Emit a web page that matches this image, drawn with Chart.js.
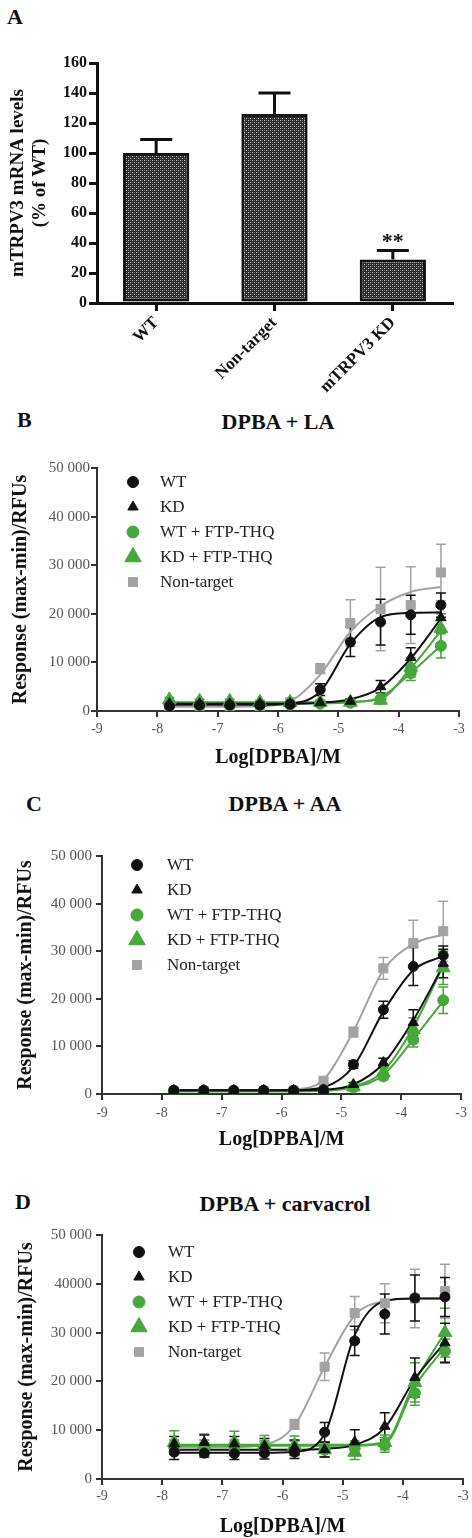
<!DOCTYPE html>
<html>
<head>
<meta charset="utf-8">
<script src="https://cdn.jsdelivr.net/npm/chart.js@4.4.1/dist/chart.umd.min.js"></script>
<style>
  body { margin: 0; background: #fff; width: 472px; height: 1538px; position: relative; overflow: hidden; font-family: "Liberation Serif", serif; }
  canvas { position: absolute; left: 0; }
  .lbl { position: absolute; font-weight: bold; color: #111; line-height: 1; white-space: nowrap; font-size: 22px; }
  .ttl { position: absolute; width: 300px; text-align: center; font-weight: bold; color: #111; line-height: 1; white-space: nowrap; font-size: 22px; }
</style>
</head>
<body>
<div class="lbl" style="left:7px;top:6px">A</div>
<div class="lbl" style="left:17px;top:409px">B</div>
<div class="ttl" style="left:128px;top:411px">DPBA + LA</div>
<div class="lbl" style="left:26px;top:793px">C</div>
<div class="ttl" style="left:135px;top:793px">DPBA + AA</div>
<div class="lbl" style="left:15px;top:1191px">D</div>
<div class="ttl" style="left:135px;top:1193px">DPBA + carvacrol</div>

<canvas id="chartA" width="472" height="400" style="top:0"></canvas>
<canvas id="chartB" width="472" height="390" style="top:390px"></canvas>
<canvas id="chartC" width="472" height="380" style="top:780px"></canvas>
<canvas id="chartD" width="472" height="378" style="top:1160px"></canvas>

<script>
// ---- data ----
const doseLog = [-7.8, -7.3, -6.8, -6.3, -5.8, -5.3, -4.8, -4.3, -3.8, -3.3];
const xTickLabels = ['-9', '-8', '-7', '-6', '-5', '-4', '-3'];

// A: mRNA levels
const aCategories = ['WT', 'Non-target', 'mTRPV3 KD'];
const aMeans = [100, 126, 29];
const aSem = [9, 14, 6];
const aMarks = ['', '', '**'];
const aYTickLabels = ['0', '20', '40', '60', '80', '100', '120', '140', '160'];

// B: DPBA + LA
const bYTickLabels = ['0', '10 000', '20 000', '30 000', '40 000', '50 000'];
const bWT = [1000, 1200, 1200, 1200, 1400, 4400, 14200, 18300, 19800, 21800];
const bWTErr = [300, 300, 300, 300, 300, 1200, 3000, 4700, 4000, 2500];
const bWTFit = [1300, 1300, 1300, 1300, 1500, 4000, 13800, 19300, 20200, 20300];
const bKD = [1500, 1500, 1500, 1500, 1500, 1700, 2000, 5000, 11000, 19200];
const bKDErr = [300, 300, 300, 300, 300, 300, 500, 1300, 2000, 3000];
const bKDFit = [1500, 1500, 1500, 1500, 1500, 1700, 2400, 4800, 10800, 19000];
const bWTF = [1300, 1300, 1300, 1300, 1300, 1500, 1700, 2500, 7800, 13400];
const bWTFErr = [300, 300, 300, 300, 300, 300, 400, 500, 1500, 2500];
const bWTFFit = [1600, 1600, 1600, 1600, 1600, 1600, 1800, 2800, 7800, 13500];
const bKDF = [2300, 2000, 2000, 1800, 1800, 1800, 1800, 2200, 9000, 17000];
const bKDFErr = [500, 400, 400, 400, 400, 400, 400, 500, 2000, 3000];
const bKDFFit = [1800, 1800, 1800, 1800, 1800, 1800, 1900, 2500, 8800, 16500];
const bNT = [800, 800, 800, 900, 1800, 8700, 18100, 21000, 21800, 28500];
const bNTErr = [200, 200, 200, 200, 500, 1000, 4800, 8600, 7900, 5800];
const bNTFit = [900, 900, 900, 1000, 2000, 7500, 16300, 21600, 24500, 25500];

// C: DPBA + AA
const cYTickLabels = ['0', '10 000', '20 000', '30 000', '40 000', '50 000'];
const cWT = [800, 800, 800, 800, 800, 900, 6200, 17700, 26800, 29100];
const cWTErr = [200, 200, 200, 200, 200, 300, 800, 1800, 4000, 2000];
const cWTFit = [800, 800, 800, 800, 800, 1400, 5800, 17300, 26000, 29000];
const cKD = [700, 700, 700, 700, 700, 800, 2000, 6600, 15000, 27400];
const cKDErr = [200, 200, 200, 200, 200, 200, 400, 900, 2700, 3000];
const cKDFit = [800, 800, 800, 800, 800, 900, 2000, 6400, 15500, 27000];
const cWTF = [500, 500, 500, 500, 500, 600, 1400, 3700, 11400, 19700];
const cWTFErr = [200, 200, 200, 200, 200, 200, 300, 700, 1500, 2800];
const cWTFFit = [600, 600, 600, 600, 600, 700, 1400, 4000, 11500, 19500];
const cKDF = [300, 300, 300, 300, 300, 500, 1500, 4500, 13500, 26500];
const cKDFErr = [200, 200, 200, 200, 200, 200, 400, 900, 2500, 3500];
const cKDFFit = [600, 600, 600, 600, 600, 700, 1600, 4800, 14000, 27000];
const cNT = [600, 600, 600, 600, 700, 2800, 13000, 26400, 31700, 34200];
const cNTErr = [200, 200, 200, 200, 200, 500, 1000, 2300, 4800, 6300];
const cNTFit = [800, 800, 800, 800, 1000, 3000, 13200, 26000, 31500, 33500];

// D: DPBA + carvacrol
const dYTickLabels = ['0', '10 000', '20 000', '30 000', '40000', '50 000'];
const dWT = [5500, 5300, 5200, 5300, 5500, 9600, 28300, 33800, 37100, 37300];
const dWTErr = [1500, 800, 1200, 1200, 1300, 2000, 3000, 4100, 4700, 4000];
const dWTFit = [5400, 5400, 5400, 5400, 5600, 9200, 29500, 36500, 37000, 37000];
const dKD = [7200, 7500, 7200, 6800, 6500, 6000, 7600, 10800, 20800, 27900];
const dKDErr = [1500, 1500, 1500, 1500, 1500, 1500, 2500, 2800, 4000, 4000];
const dKDFit = [6000, 6000, 6000, 6000, 6000, 6200, 7000, 10500, 20500, 28000];
const dWTF = [6500, 6500, 6500, 6300, 6300, 6000, 6300, 7000, 17600, 26200];
const dWTFErr = [1500, 1500, 1500, 1500, 1500, 1500, 1500, 1500, 2500, 2500];
const dWTFFit = [6800, 6800, 6800, 6800, 6800, 6800, 6800, 7300, 19000, 27000];
const dKDF = [7500, 7000, 7500, 7000, 6800, 6000, 5500, 7500, 19800, 30000];
const dKDFErr = [2400, 2200, 2300, 1900, 2000, 1500, 1500, 1500, 4000, 5000];
const dKDFFit = [7000, 7000, 7000, 7000, 7000, 7000, 7000, 7600, 20000, 30000];
const dNT = [6500, 6500, 6500, 6800, 11200, 23000, 34000, 36000, 37000, 38500];
const dNTErr = [1000, 1000, 1000, 1000, 1000, 2800, 3400, 4000, 6000, 5500];
const dNTFit = [6500, 6500, 6500, 7000, 11000, 23000, 33500, 36500, 37000, 37000];

// ---- styles ----
const SERIF = '"Liberation Serif", "Times New Roman", serif';
const INK = '#111';
const GREEN = '#46a83a';
const GREY = '#a3a3a3';
const seriesStyle = {
    WT: {label: 'WT', color: INK, pointStyle: 'circle', radius: 5, legendRadius: 5.5},
    KD: {label: 'KD', color: INK, pointStyle: 'triangle', radius: 6, legendRadius: 6},
    WTF: {label: 'WT + FTP-THQ', color: GREEN, pointStyle: 'circle', radius: 5.5, legendRadius: 6},
    KDF: {label: 'KD + FTP-THQ', color: GREEN, pointStyle: 'triangle', radius: 8, legendRadius: 9.5},
    NT: {label: 'Non-target', color: GREY, pointStyle: 'rect', radius: 6.4, legendRadius: 6.4}
};

// dotted fill used by the bars in panel A
function dotPattern() {
    const c = document.createElement('canvas');
    c.width = 4; c.height = 4;
    const g = c.getContext('2d');
    g.fillStyle = '#2a2a2a'; g.fillRect(0, 0, 4, 4);
    g.fillStyle = '#d0d0d0'; g.fillRect(0, 0, 1, 1); g.fillRect(2, 2, 1, 1);
    g.fillStyle = '#666'; g.fillRect(2, 0, 1, 1); g.fillRect(0, 2, 1, 1);
    return g.createPattern(c, 'repeat');
}

function drawErrors(chart, o) {
    const {ctx} = chart;
    const yScale = chart.scales.y;
    for (let i = chart.data.datasets.length - 1; i >= 0; i--) {
        const ds = chart.data.datasets[i];
        if (!ds.errors) continue;
        const meta = chart.getDatasetMeta(i);
        ctx.save();
        ctx.strokeStyle = ds.borderColor;
        ctx.lineWidth = o.width;
        meta.data.forEach((el, j) => {
            const v = meta.controller.getParsed(j).y;
            const e = ds.errors[j];
            const top = yScale.getPixelForValue(v + e);
            const bot = yScale.getPixelForValue(o.upOnly ? v : v - e);
            ctx.beginPath();
            ctx.moveTo(el.x, bot); ctx.lineTo(el.x, top);
            ctx.moveTo(el.x - o.cap / 2, top); ctx.lineTo(el.x + o.cap / 2, top);
            if (!o.upOnly) { ctx.moveTo(el.x - o.cap / 2, bot); ctx.lineTo(el.x + o.cap / 2, bot); }
            ctx.stroke();
            if (ds.marks && ds.marks[j]) {
                ctx.fillStyle = INK;
                ctx.font = 'bold 22px ' + SERIF;
                ctx.textAlign = 'center';
                ctx.textBaseline = 'middle';
                ctx.fillText(ds.marks[j], el.x, top - 8);
            }
        });
        ctx.restore();
    }
}

const errorBars = {
    id: 'errorBars',
    beforeDatasetsDraw(chart, _a, o) { if (!o.upOnly) drawErrors(chart, o); },
    afterDatasetsDraw(chart, _a, o) { if (o.upOnly) drawErrors(chart, o); }
};

const insetLegend = {
    id: 'insetLegend',
    afterDraw(chart, _a, o) {
        const {ctx, chartArea} = chart;
        let i = 0;
        chart.data.datasets.forEach(ds => {
            if (!ds.inLegend) return;
            const y = chartArea.top + o.top + i * o.gap;
            ctx.save();
            ctx.fillStyle = ds.backgroundColor;
            ctx.strokeStyle = ds.borderColor;
            ctx.lineWidth = 1;
            Chart.helpers.drawPoint(ctx, {pointStyle: ds.pointStyle, radius: ds.legendRadius, rotation: 0, borderWidth: 1}, o.markerX, y);
            ctx.fillStyle = '#222';
            ctx.font = '17px ' + SERIF;
            ctx.textAlign = 'left';
            ctx.textBaseline = 'middle';
            ctx.fillText(ds.label, o.textX, y + 1);
            ctx.restore();
            i++;
        });
    }
};

// ---- panel A ----
new Chart(document.getElementById('chartA'), {
    type: 'bar',
    data: {
        labels: aCategories,
        datasets: [{
            data: aMeans,
            errors: aSem,
            marks: aMarks,
            backgroundColor: dotPattern(),
            borderColor: INK,
            borderWidth: 3,
            borderSkipped: false,
            categoryPercentage: 1,
            barPercentage: 0.56
        }]
    },
    options: {
        responsive: false,
        animation: false,
        layout: {padding: {top: 63, right: 20, left: 0, bottom: 0}},
        plugins: {
            legend: {display: false},
            tooltip: {enabled: false},
            errorBars: {cap: 32, width: 3, upOnly: true}
        },
        scales: {
            x: {
                grid: {offset: false, drawOnChartArea: false, tickLength: 8, lineWidth: 3, color: INK},
                border: {color: INK, width: 3},
                ticks: {minRotation: 45, maxRotation: 45, padding: 2, color: INK, font: {family: SERIF, size: 17, weight: 'bold'}},
                afterFit: s => { s.height = 97; }
            },
            y: {
                min: 0,
                max: 160,
                grid: {drawOnChartArea: false, tickLength: 8, lineWidth: 3, color: INK},
                border: {color: INK, width: 3},
                ticks: {stepSize: 20, padding: 2, color: INK, font: {family: SERIF, size: 16, weight: 'bold'}, callback: v => aYTickLabels[v / 20]},
                title: {display: true, text: ['mTRPV3 mRNA levels', '(% of WT)'], color: INK, font: {family: SERIF, size: 19, weight: 'bold', lineHeight: 1.16}, padding: {top: 7, bottom: 0}},
                afterFit: s => { s.width = 97; }
            }
        }
    },
    plugins: [errorBars]
});

// ---- panels B, C, D ----
function doseDatasets(series) {
    const sets = [];
    series.forEach((s, i) => {
        const st = seriesStyle[s.key];
        sets.push({
            label: st.label,
            data: doseLog.map((x, j) => ({x, y: s.values[j]})),
            errors: s.errors,
            inLegend: true,
            legendRadius: st.legendRadius,
            showLine: false,
            pointStyle: st.pointStyle,
            pointRadius: st.radius,
            pointBorderWidth: 1,
            backgroundColor: st.color,
            borderColor: st.color,
            order: i + 1
        });
        sets.push({
            data: doseLog.map((x, j) => ({x, y: s.fit[j]})),
            showLine: true,
            pointRadius: 0,
            borderColor: st.color,
            borderWidth: 2,
            cubicInterpolationMode: 'monotone',
            order: 10 + i
        });
    });
    return sets;
}

function doseChart(id, series, yLabels, frame) {
    return new Chart(document.getElementById(id), {
        type: 'line',
        data: {datasets: doseDatasets(series)},
        options: {
            responsive: false,
            animation: false,
            layout: {padding: {top: frame.top, right: frame.right, left: 0, bottom: 0}},
            plugins: {
                legend: {display: false},
                tooltip: {enabled: false},
                errorBars: {cap: 10, width: 1.5, upOnly: false},
                insetLegend: frame.legend
            },
            scales: {
                x: {
                    type: 'linear',
                    min: -9,
                    max: -3,
                    grid: {drawOnChartArea: false, tickLength: 6, lineWidth: 2, color: '#333'},
                    border: {color: '#333', width: 2},
                    ticks: {stepSize: 1, autoSkip: false, padding: frame.xTickPad, color: '#555', font: {family: SERIF, size: 14}, callback: v => xTickLabels[Math.round(v) + 9]},
                    title: {display: true, text: 'Log[DPBA]/M', color: INK, font: {family: SERIF, size: 20, weight: 'bold', lineHeight: 1.1}, padding: {top: 0, bottom: frame.xTitlePad}},
                    afterFit: s => { s.height = frame.xHeight; }
                },
                y: {
                    min: 0,
                    max: 50000,
                    grid: {drawOnChartArea: false, tickLength: 6, lineWidth: 2, color: '#333'},
                    border: {color: '#333', width: 2},
                    ticks: {stepSize: 10000, padding: frame.yTickPad, color: '#555', font: {family: SERIF, size: 15}, callback: v => yLabels[Math.round(v / 10000)]},
                    title: {display: true, text: 'Response (max-min)/RFUs', color: INK, font: {family: SERIF, size: 20, weight: 'bold', lineHeight: 1.1}, padding: {top: frame.yTitlePad, bottom: 0}},
                    afterFit: s => { s.width = frame.yWidth; }
                }
            }
        },
        plugins: [errorBars, insetLegend]
    });
}

doseChart('chartB', [
    {key: 'WT', values: bWT, errors: bWTErr, fit: bWTFit},
    {key: 'KD', values: bKD, errors: bKDErr, fit: bKDFit},
    {key: 'WTF', values: bWTF, errors: bWTFErr, fit: bWTFFit},
    {key: 'KDF', values: bKDF, errors: bKDFErr, fit: bKDFFit},
    {key: 'NT', values: bNT, errors: bNTErr, fit: bNTFit}
], bYTickLabels, {top: 78, right: 13, xHeight: 69, yWidth: 97, xTickPad: 4, xTitlePad: 11, yTickPad: 1, yTitlePad: 10,
    legend: {top: 14, gap: 25, markerX: 133, textX: 160}});

doseChart('chartC', [
    {key: 'WT', values: cWT, errors: cWTErr, fit: cWTFit},
    {key: 'KD', values: cKD, errors: cKDErr, fit: cKDFit},
    {key: 'WTF', values: cWTF, errors: cWTFErr, fit: cWTFFit},
    {key: 'KDF', values: cKDF, errors: cKDFErr, fit: cKDFFit},
    {key: 'NT', values: cNT, errors: cNTErr, fit: cNTFit}
], cYTickLabels, {top: 76, right: 7, xHeight: 66, yWidth: 102, xTickPad: 5, xTitlePad: 9, yTickPad: 4, yTitlePad: 15,
    legend: {top: 9, gap: 25, markerX: 137, textX: 167}});

doseChart('chartD', [
    {key: 'WT', values: dWT, errors: dWTErr, fit: dWTFit},
    {key: 'KD', values: dKD, errors: dKDErr, fit: dKDFit},
    {key: 'WTF', values: dWTF, errors: dWTFErr, fit: dWTFFit},
    {key: 'KDF', values: dKDF, errors: dKDFErr, fit: dKDFFit},
    {key: 'NT', values: dNT, errors: dNTErr, fit: dNTFit}
], dYTickLabels, {top: 75, right: 7, xHeight: 59, yWidth: 102, xTickPad: 3, xTitlePad: 0, yTickPad: 4, yTitlePad: 16,
    legend: {top: 17, gap: 25, markerX: 139, textX: 168}});
</script>
</body>
</html>
